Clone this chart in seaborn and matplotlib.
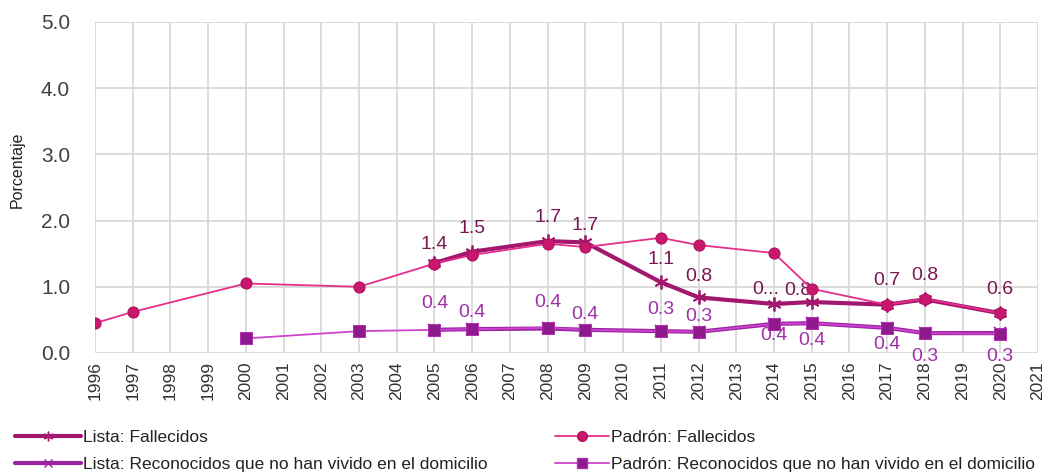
import numpy as np
import pandas as pd
import matplotlib
matplotlib.use("Agg")
import matplotlib.pyplot as plt
from matplotlib.lines import Line2D
import seaborn as sns

# ---------------------------------------------------------------
# Data (percent)
# ---------------------------------------------------------------
years_lista = [2005, 2006, 2008, 2009, 2011, 2012, 2014, 2015, 2017, 2018, 2020]
lista_fallecidos = [1.36, 1.53, 1.69, 1.67, 1.07, 0.84, 0.74, 0.77, 0.73, 0.81, 0.60]
lista_fallecidos_lbl = ["1.4", "1.5", "1.7", "1.7", "1.1", "0.8", "0...", "0.8", "0.7", "0.8", "0.6"]
lista_reconocidos = [0.35, 0.36, 0.37, 0.35, 0.33, 0.32, 0.44, 0.45, 0.38, 0.30, 0.30]
lista_reconocidos_lbl = ["0.4", "0.4", "0.4", "0.4", "0.3", "0.3", "0.4", "0.4", "0.4", "0.3", "0.3"]

years_padron_f = [1996, 1997, 2000, 2003, 2005, 2006, 2008, 2009, 2011, 2012, 2014, 2015, 2017, 2018, 2020]
padron_fallecidos = [0.45, 0.62, 1.05, 1.00, 1.35, 1.48, 1.65, 1.60, 1.74, 1.63, 1.51, 0.97, 0.73, 0.82, 0.60]

years_padron_r = [2000, 2003, 2005, 2006, 2008, 2009, 2011, 2012, 2014, 2015, 2017, 2018, 2020]
padron_reconocidos = [0.22, 0.33, 0.35, 0.36, 0.38, 0.35, 0.33, 0.32, 0.44, 0.45, 0.38, 0.30, 0.29]

year_ticks = list(range(1996, 2022))
y_ticks = [0.0, 1.0, 2.0, 3.0, 4.0, 5.0]

# label offsets in pixels (style only)
dy_fall = [18, 23, 24, 17, 23, 21, 15, 12, 24, 24, 24]
dx_fall = [0, 0, 0, 0, 0, 0, -8, -14, 0, 0, 0]
dy_rec = [26, 17, 26, 15, 22, 15, -12, -17, -17, -23, -23]

c_lf = "#A3186E"
c_lf_txt = "#7A1752"
c_pf = "#E62E8B"
c_lr = "#9C22A4"
c_lr_txt = "#A030A8"
c_pr = "#CC44CC"
c_pr_mk = "#8E1A8E"

sns.set_style("white")
plt.rcParams["font.family"] = ["Liberation Sans", "DejaVu Sans"]

fig = plt.figure(figsize=(10.51, 4.74), dpi=100)
ax = fig.add_axes([0.0904, 0.2553, 0.8972, 0.6983])

df_lf = pd.DataFrame({"year": years_lista, "val": lista_fallecidos})
df_lr = pd.DataFrame({"year": years_lista, "val": lista_reconocidos})
df_pf = pd.DataFrame({"year": years_padron_f, "val": padron_fallecidos})
df_pr = pd.DataFrame({"year": years_padron_r, "val": padron_reconocidos})

sns.lineplot(data=df_lf, x="year", y="val", ax=ax, color=c_lf, linewidth=3,
             marker=(6, 2, 0), markersize=10, markeredgewidth=1.3,
             markeredgecolor=c_lf, zorder=3)
sns.lineplot(data=df_lr, x="year", y="val", ax=ax, color=c_lr, linewidth=3,
             marker="x", markersize=8, markeredgewidth=1.3,
             markeredgecolor=c_lr, zorder=3)
sns.lineplot(data=df_pf, x="year", y="val", ax=ax, color=c_pf, linewidth=1.3,
             marker="o", markersize=8, markerfacecolor="#C8186E",
             markeredgecolor="#B0105F", zorder=4)
sns.lineplot(data=df_pr, x="year", y="val", ax=ax, color=c_pr, linewidth=1.3,
             marker="s", markersize=8, markerfacecolor=c_pr_mk,
             markeredgecolor="#B030B0", zorder=4)

for x, y, t, dy, dx in zip(years_lista, lista_fallecidos, lista_fallecidos_lbl, dy_fall, dx_fall):
    ax.annotate(t, (x, y), xytext=(dx, dy), textcoords="offset pixels",
                ha="center", va="center", fontsize=14, color=c_lf_txt)
for x, y, t, dy in zip(years_lista, lista_reconocidos, lista_reconocidos_lbl, dy_rec):
    ax.annotate(t, (x, y), xytext=(0, dy), textcoords="offset pixels",
                ha="center", va="center", fontsize=14, color=c_lr_txt,
                annotation_clip=False)

ax.set_xlim(1996, 2021)
ax.set_ylim(0, 5)
ax.set_xticks(year_ticks)
ax.set_xticklabels([str(y) for y in year_ticks], rotation=90, fontsize=12.5, color="#333333")
ax.set_yticks(y_ticks)
ax.set_yticklabels([f"{v:.1f}" for v in y_ticks], fontsize=15, color="#404040")
ax.tick_params(axis="both", length=0)
ax.tick_params(axis="y", pad=18)
ax.tick_params(axis="x", pad=6)
ax.grid(True, color="#D9D9D9", linewidth=1.3)
ax.set_axisbelow(True)
for s in ax.spines.values():
    s.set_visible(False)
ax.set_xlabel("")
ax.set_ylabel("Porcentaje", fontsize=11.5, color="#222222")
ax.yaxis.set_label_coords(-0.075, 0.553)

handles = [
    Line2D([], [], color=c_lf, linewidth=3, marker=(6, 2, 0), markersize=7),
    Line2D([], [], color=c_lr, linewidth=3, marker="x", markersize=6),
    Line2D([], [], color=c_pf, linewidth=1.3, marker="o", markersize=7,
           markerfacecolor="#C8186E", markeredgecolor="#B0105F"),
    Line2D([], [], color=c_pr, linewidth=1.3, marker="s", markersize=7,
           markerfacecolor=c_pr_mk, markeredgecolor="#B030B0"),
]
labels = ["Lista: Fallecidos",
          "Lista: Reconocidos que no han vivido en el domicilio",
          "Padrón: Fallecidos",
          "Padrón: Reconocidos que no han vivido en el domicilio"]
leg_kw = dict(loc="center left", frameon=False, borderpad=0, borderaxespad=0,
              handletextpad=0.1, labelspacing=0.68,
              prop={"size": 12.5}, labelcolor="#222222")
leg1 = fig.legend(handles[:2], labels[:2], bbox_to_anchor=(15 / 1051, 1 - 451 / 474),
                  handlelength=3.8, **leg_kw)
leg2 = fig.legend(handles[2:], labels[2:], bbox_to_anchor=(555 / 1051, 1 - 451 / 474),
                  handlelength=3.1, **leg_kw)

fig.savefig("out.png", dpi=100)
